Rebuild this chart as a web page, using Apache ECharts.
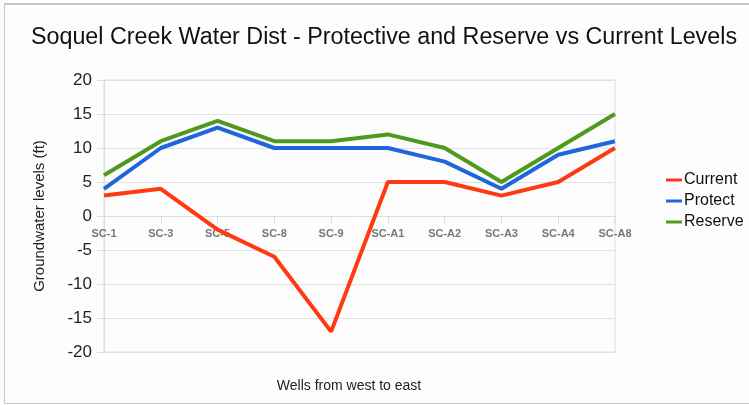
<!DOCTYPE html>
<html>
<head>
<meta charset="utf-8">
<script src="https://cdn.jsdelivr.net/npm/echarts@6/dist/echarts.min.js"></script>
<style>
html,body{margin:0;padding:0;background:#fdfdfd;}
#frame{position:absolute;left:4px;top:3px;width:800px;height:398px;border:1px solid #c8c8c8;border-top:2px solid #c8c8c8;}
#main{position:absolute;left:0;top:0;width:749px;height:405px;}
</style>
</head>
<body>
<div id="frame"></div>
<div id="main"></div>
<script>
const categories = ['SC-1','SC-3','SC-5','SC-8','SC-9','SC-A1','SC-A2','SC-A3','SC-A4','SC-A8'];
const current = [3, 4, -2, -6, -17, 5, 5, 3, 5, 10];
const protect = [4, 10, 13, 10, 10, 10, 8, 4, 9, 11];
const reserve = [6, 11, 14, 11, 11, 12, 10, 5, 10, 15];

const chart = echarts.init(document.getElementById('main'), null, {renderer:'canvas'});
const lineSeries = (name, data, color) => ({
  name, type:'line', data, symbol:'none', smooth:false, z:3,
  lineStyle:{width:4, color}, itemStyle:{color}
});
chart.setOption({
  backgroundColor:'transparent',
  animation:false,
  textStyle:{fontFamily:'Liberation Sans, Arial, sans-serif'},
  title:[
    {text:'Soquel Creek Water Dist - Protective and Reserve vs Current Levels',
     left:379, top:21, textAlign:'center',
     textStyle:{fontSize:23.3, fontWeight:'normal', color:'#111', fontFamily:'Liberation Sans, Arial, sans-serif'}},
    {text:'Wells from west to east', left:344, top:374, textAlign:'center',
     textStyle:{fontSize:14, fontWeight:'normal', color:'#222', fontFamily:'Liberation Sans, Arial, sans-serif'}}
  ],
  legend:{
    orient:'vertical', left:666, top:172, itemGap:5, padding:0,
    itemWidth:16, itemHeight:3, icon:'rect',
    textStyle:{fontSize:16, color:'#111', padding:[0,0,0,-3]},
    data:['Current','Protect','Reserve']
  },
  grid:{left:104, right:134, top:80, bottom:53, show:true, borderColor:'#dedede', borderWidth:1, backgroundColor:'#fdfdfd'},
  xAxis:{
    type:'category', data:categories, boundaryGap:false,
    axisLine:{onZero:true, lineStyle:{color:'#dedede', width:1}},
    axisTick:{show:true, length:8, lineStyle:{color:'#dedede'}},
    axisLabel:{show:false},
    splitLine:{show:false}
  },
  yAxis:{
    type:'value', min:-20, max:20, interval:5,
    name:'Groundwater levels (ft)', nameLocation:'middle', nameGap:57,
    nameTextStyle:{fontSize:15, color:'#222'},
    axisLine:{show:true, lineStyle:{color:'#dedede'}},
    axisTick:{show:true, length:7, lineStyle:{color:'#dedede'}},
    axisLabel:{fontSize:17, color:'#222', margin:12},
    splitLine:{show:true, lineStyle:{color:'#e2e2e2', width:1}}
  },
  series:[
    {
      name:'wellLabels', type:'scatter', silent:true, z:1,
      data:categories.map(c => [c, 0]),
      symbol:'circle', symbolSize:2, itemStyle:{color:'rgba(0,0,0,0)'},
      label:{show:true, position:'bottom', distance:11,
        formatter:p => p.value[0],
        fontSize:11, color:'#555', fontWeight:'bold', fontFamily:'Liberation Sans, Arial, sans-serif'}
    },
    lineSeries('Current', current, '#ff3a10'),
    lineSeries('Protect', protect, '#1f66dd'),
    lineSeries('Reserve', reserve, '#4e9a1c')
  ]
});
</script>
</body>
</html>
